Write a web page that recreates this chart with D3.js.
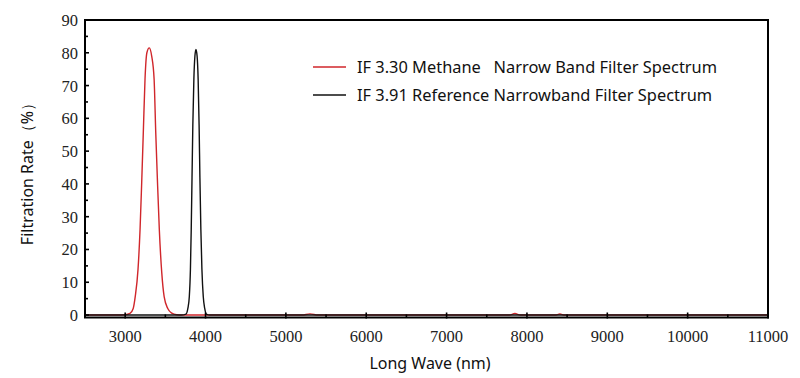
<!DOCTYPE html>
<html>
<head>
<meta charset="utf-8">
<script src="https://d3js.org/d3.v7.min.js"></script>
<style>
    body { margin: 0; background: #fff; }
</style>
</head>
<body>
<script>
    "use strict";
    // red curve: IF 3.30 methane filter, [wavelength nm, filtration %]
    var methane = [
        [2500, 0], [2900, 0], [3000, 0.1], [3060, 0.5], [3100, 2], [3125, 5.6], [3160, 14],
        [3185, 26], [3205, 40], [3226, 56], [3247, 72], [3270, 80], [3300, 81.5],
        [3330, 79], [3360, 72], [3380, 56], [3400, 42], [3425, 26], [3455, 13],
        [3485, 5.6], [3530, 2], [3580, 0.6], [3640, 0.1], [3700, 0],
        [5200, 0], [5300, 0.35], [5400, 0], [7780, 0], [7850, 0.45], [7920, 0],
        [8350, 0], [8410, 0.3], [8470, 0], [11000, 0]
    ];
    // black curve: IF 3.91 reference filter
    var reference = [
        [2500, 0], [3700, 0], [3757, 0.3], [3780, 2], [3798, 5.6], [3812, 14], [3822, 26],
        [3832, 42], [3842, 58], [3855, 72], [3868, 79], [3881, 81], [3895, 79],
        [3908, 72], [3920, 58], [3930, 42], [3942, 26], [3955, 14], [3972, 5.6],
        [3990, 2], [4010, 0.3], [4050, 0], [11000, 0]
    ];
    var xTicks = [3000, 4000, 5000, 6000, 7000, 8000, 9000, 10000, 11000];
    var xMinor = [3500, 4500, 5500, 6500, 7500, 8500, 9500, 10500];
    var yTicks = [0, 10, 20, 30, 40, 50, 60, 70, 80, 90];
    var yMinor = [5, 15, 25, 35, 45, 55, 65, 75, 85];
    var legendNames = ["IF 3.30 Methane\u00a0\u00a0 Narrow Band Filter Spectrum",
                       "IF 3.91 Reference Narrowband Filter Spectrum"];

    var W = 800, H = 378;
    var L = 85, R = 768, T = 20, B = 317.5;
    var serif = "'Liberation Serif', 'DejaVu Serif', serif";
    var sans = "'Noto Sans', 'Open Sans', sans-serif";

    var svg = d3.select("body").append("svg")
        .attr("width", W).attr("height", H);

    var x = d3.scaleLinear().domain([2500, 11000]).range([L, R]);
    var y = d3.scaleLinear().domain([-0.75, 90]).range([B, T]);

    // curves
    var line = d3.line()
        .x(function(d) { return x(d[0]); })
        .y(function(d) { return y(d[1]); })
        .curve(d3.curveMonotoneX);

    svg.append("path").datum(methane)
        .attr("d", line).attr("fill", "none")
        .attr("stroke", "#d0262b").attr("stroke-width", 1.4);
    svg.append("path").datum(reference)
        .attr("d", line).attr("fill", "none")
        .attr("stroke", "#111").attr("stroke-width", 1.4);

    // frame
    svg.append("rect")
        .attr("x", L).attr("y", T)
        .attr("width", R - L).attr("height", B - T)
        .attr("fill", "none").attr("stroke", "#000").attr("stroke-width", 2);

    // x ticks (inward)
    svg.selectAll(".xmaj").data(xTicks).enter().append("line")
        .attr("x1", function(d) { return x(d); }).attr("x2", function(d) { return x(d); })
        .attr("y1", B + 1).attr("y2", B - 5)
        .attr("stroke", "#000").attr("stroke-width", 1.6);
    svg.selectAll(".xmin").data(xMinor).enter().append("line")
        .attr("x1", function(d) { return x(d); }).attr("x2", function(d) { return x(d); })
        .attr("y1", B).attr("y2", B - 3)
        .attr("stroke", "#000").attr("stroke-width", 1.6);
    svg.selectAll(".xlab").data(xTicks).enter().append("text")
        .style("font-family", serif).style("font-size", "16.5px").style("fill", "#222")
        .attr("x", function(d) { return x(d); })
        .attr("y", 342)
        .attr("text-anchor", "middle")
        .text(function(d) { return d; });

    // y ticks (inward)
    svg.selectAll(".ymaj").data(yTicks).enter().append("line")
        .attr("x1", L - 1).attr("x2", L + 4)
        .attr("y1", function(d) { return y(d); }).attr("y2", function(d) { return y(d); })
        .attr("stroke", "#000").attr("stroke-width", 1.6);
    svg.selectAll(".ymin").data(yMinor).enter().append("line")
        .attr("x1", L).attr("x2", L + 3)
        .attr("y1", function(d) { return y(d); }).attr("y2", function(d) { return y(d); })
        .attr("stroke", "#000").attr("stroke-width", 1.6);
    svg.selectAll(".ylab").data(yTicks).enter().append("text")
        .style("font-family", serif).style("font-size", "16.5px").style("fill", "#222")
        .attr("x", 78)
        .attr("y", function(d) { return y(d) + 6; })
        .attr("text-anchor", "end")
        .text(function(d) { return d; });

    // axis titles
    svg.append("text")
        .style("font-family", sans).style("font-size", "16px").style("fill", "#111")
        .attr("x", 430).attr("y", 369)
        .attr("text-anchor", "middle")
        .text("Long Wave (nm)");
    svg.append("text")
        .style("font-family", sans).style("font-size", "16px").style("fill", "#111")
        .attr("transform", "translate(33,170) rotate(-90)")
        .attr("text-anchor", "middle")
        .text("Filtration Rate（%）");

    // legend
    var legColors = ["#d0262b", "#111"];
    var leg = svg.selectAll(".leg").data(legendNames).enter().append("g")
        .attr("transform", function(d, i) { return "translate(313," + (67 + i * 28) + ")"; });
    leg.append("line")
        .attr("x1", 0).attr("x2", 33).attr("y1", 0).attr("y2", 0)
        .attr("stroke", function(d, i) { return legColors[i]; })
        .attr("stroke-width", 1.4);
    leg.append("text")
        .style("font-family", sans).style("font-size", "16.4px").style("fill", "#111")
        .attr("x", 44).attr("y", 6)
        .text(function(d) { return d; });
</script>
</body>
</html>
